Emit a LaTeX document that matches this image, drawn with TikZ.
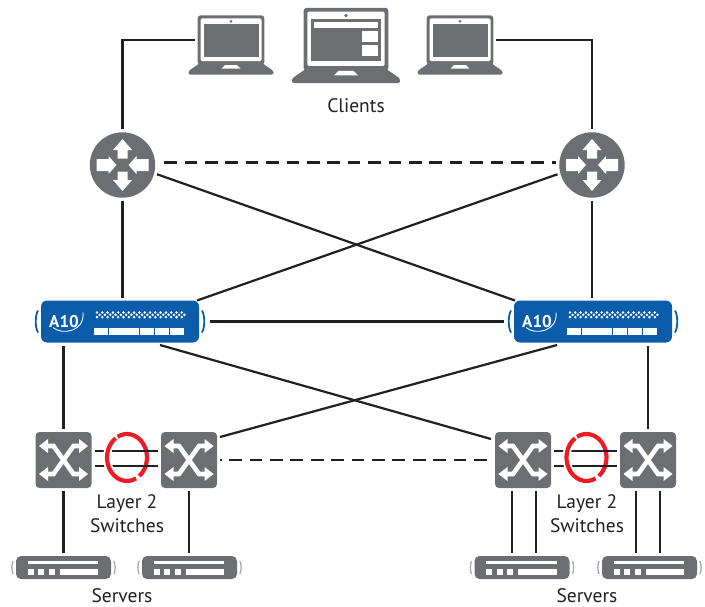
\documentclass[tikz,border=0pt]{standalone}
\usepackage{fontspec}
\setmainfont{PT Sans}
\usetikzlibrary{calc}
\definecolor{devgray}{HTML}{6D6E71}
\definecolor{bracketgray}{HTML}{A7A9AC}
\definecolor{a10blue}{HTML}{0B5CAB}
\definecolor{ringred}{HTML}{ED1C24}
\definecolor{inkdark}{HTML}{231F20}

\begin{document}
\begin{tikzpicture}[x=1pt,y=-1pt]
        \useasboundingbox (0,0) rectangle (705,606);
        \tikzstyle{every node}=[outer sep=3pt,inner sep=0pt]
        \tikzstyle{wire}=[draw=inkdark,line width=2.2pt]
        \tikzstyle{dashwire}=[wire,dash pattern=on 12.7pt off 7.7pt]
        \tikzstyle{caption}=[text=inkdark,outer sep=0pt,font=\fontsize{19.5}{24}\selectfont,align=center]
        \tikzstyle{laptop}=[rectangle,minimum width=#1*86pt,minimum height=#1*60pt,path picture={
          \begin{scope}[shift={(path picture bounding box.center)},x=#1pt,y=-#1pt]
            \fill[devgray,rounded corners=3pt] (-33.3,-29.7) rectangle (33.3,20);
            \fill[white,rounded corners=1.5pt] (-30.5,-26.7) rectangle (30.5,16);
            \fill[devgray] (-27.5,-21) rectangle (27.5,12);
            \fill[devgray] (0,-23.6) circle (1.5);
            \fill[devgray,rounded corners=1.5pt] (-31,18) -- (31,18) -- (42.5,26) -- (42.5,29.6) -- (-42.5,29.6) -- (-42.5,26) -- cycle;
            \fill[white] (-6,20) -- (6,20) -- (9.5,23.5) -- (-9.5,23.5) -- cycle;
          \end{scope}}]
        \tikzstyle{router}=[circle,minimum size=65.4pt,fill=devgray,path picture={
          \begin{scope}[shift={(path picture bounding box.center)}]
            \foreach \rot in {1,-1} {
              \begin{scope}[x=\rot pt,y=-\rot pt]
                \fill[white] (0,-26) -- (9.5,-15) -- (5,-15) -- (5,-6.5) -- (-5,-6.5) -- (-5,-15) -- (-9.5,-15) -- cycle;
                \fill[white] (-6,0) -- (-14,-9) -- (-14,-6) -- (-26,-6) -- (-26,6) -- (-14,6) -- (-14,9) -- cycle;
              \end{scope}
            }
          \end{scope}}]
        \tikzstyle{adc}=[rectangle,minimum width=173pt,minimum height=42pt,path picture={
          \begin{scope}[shift={(path picture bounding box.center)}]
            \fill[a10blue,rounded corners=6pt] (-79,-21) rectangle (79,21);
            \foreach \sx in {-1,1}
              \draw[a10blue,line width=1.8pt] (\sx*82,-11) .. controls (\sx*85,-6) and (\sx*85,6) .. (\sx*82,11);
            \foreach \dx in {0,...,16} {
              \fill[white] (-23+5.3*\dx,-10.4) -- ++(1.4,1.4) -- ++(-1.4,1.4) -- ++(-1.4,-1.4) -- cycle;
              \fill[white] (-23+5.3*\dx,-5.8) -- ++(1.4,1.4) -- ++(-1.4,1.4) -- ++(-1.4,-1.4) -- cycle;
              \fill[white] (-20.35+5.3*\dx,-8.1) -- ++(1.4,1.4) -- ++(-1.4,1.4) -- ++(-1.4,-1.4) -- cycle;
            }
            \foreach \dx in {0,...,5}
              \fill[white] (-26+15.2*\dx,6.5) rectangle ++(14.3,7);
            \draw[white,line width=0.9pt] (-67,6) .. controls (-58,14) and (-35,10) .. (-37,-9);
            \node[text=white,font=\fontsize{17}{17}\selectfont\bfseries] at (-56,0) {A10};
          \end{scope}}]
        \tikzstyle{switchbox}=[rectangle,minimum size=56pt,fill=devgray,rounded corners=4pt,path picture={
          \begin{scope}[shift={(path picture bounding box.center)},sharp corners]
            \foreach \sx/\sy in {1/1,1/-1,-1/1,-1/-1} {
              \begin{scope}[x=\sx pt,y=-\sy pt]
                \fill[white] (24.5,-14) -- (15.5,-21) -- (15.5,-7) -- cycle;
                \draw[white,line width=4.6pt] (16,-14) -- (10,-14) -- (0,0);
              \end{scope}
            }
          \end{scope}}]
        \tikzstyle{server}=[rectangle,minimum width=106pt,minimum height=23pt,path picture={
          \begin{scope}[shift={(path picture bounding box.center)}]
            \fill[devgray,rounded corners=5pt] (-47.5,-11.5) rectangle (47.5,11.5);
            \foreach \sx in {-1,1}
              \draw[bracketgray,line width=1.3pt] (\sx*50.5,-6.5) .. controls (\sx*52,-3) and (\sx*52,3) .. (\sx*50.5,6.5);
            \fill[white] (-36,-6.8) rectangle (34.5,-3.5);
            \foreach \dx in {-36,-25.5,-15}
              \fill[white] (\dx,1.5) rectangle ++(6,6);
            \fill[white] (-4,1.5) rectangle (34.5,7.5);
          \end{scope}}]
        % clients
        \node[laptop=1] (lapL) at (231,45) {};
        \node[laptop=1.27] (lapM) at (346,45.5) {};
        \node[laptop=1] (lapR) at (460,45) {};
        \begin{scope}[shift={(lapM.center)}]
          \fill[white] (-32,-23.5) rectangle (32,-17.5);
          \fill[white] (16,-14.5) rectangle (32,-3.5);
          \fill[white] (16,-0.5) rectangle (32,10.5);
        \end{scope}
        \node[caption] (lblClients) at (356,106) {Clients};
        % routers
        \node[router] (rtL) at (122.5,165) {};
        \node[router] (rtR) at (592,165) {};
        % load balancers
        \node[adc] (adcL) at (120,321.5) {};
        \node[adc] (adcR) at (593,321.5) {};
        % switches
        \node[switchbox] (swA) at (63.5,460) {};
        \node[switchbox] (swB) at (189,460) {};
        \node[switchbox] (swC) at (523,460) {};
        \node[switchbox] (swD) at (648,460) {};
        % servers
        \node[server] (srvA) at (63.5,567.5) {};
        \node[server] (srvB) at (189.5,567.5) {};
        \node[server] (srvC) at (522,567.5) {};
        \node[server] (srvD) at (649.5,567.5) {};
        \node[caption] (lblSwL) at (127,514) {Layer 2\\Switches};
        \node[caption] (lblSwR) at (587,514) {Layer 2\\Switches};
        \node[caption] (lblSrvL) at (122,595.5) {Servers};
        \node[caption] (lblSrvR) at (587,595.5) {Servers};
        % upper connectors
        \draw[wire] ([shift={(-36,-5)}]lapL.center) -| (rtL.north);
        \draw[wire] ([shift={(36,-5)}]lapR.center) -| (rtR.north);
        \draw[dashwire,dash phase=14.4pt] (rtL.4) -- (rtR.176);
        \draw[wire] (rtL.-15) -- ([shift={(-78,-21)}]adcR.center);
        \draw[wire] (rtR.195) -- ([shift={(77,-21)}]adcL.center);
        \draw[wire] (rtL.south) -- (rtL.south |- adcL.north);
        \draw[wire] (rtR.south) -- (rtR.south |- adcR.north);
        \draw[wire] (adcL.east) -- (adcR.west);
        % lower connectors
        \draw[wire] (adcL.south -| swA.north) -- (swA.north);
        \draw[wire] (adcR.south -| swD.north) -- (swD.north);
        \draw[wire] ([shift={(40,23.5)}]adcL.center) -- ([shift={(-32,-21)}]swC.center);
        \draw[wire] ([shift={(-36,23.5)}]adcR.center) -- ([shift={(31,-23)}]swB.center);
        \draw[dashwire,dash phase=11.2pt] (swB.east) -- (swC.west);
        % rings and switch pairs
        \foreach \ringx/\first/\second in {127/swA/swB,586.5/swC/swD} {
          \draw[ringred,line width=4.2pt] (\ringx,457.5) ++(52:20 and 23.5) arc (52:-118:20 and 23.5);
          \foreach \off in {-9,6}
            \draw[wire] ([shift={(0,\off)}]\first.east) -- ([shift={(0,\off)}]\second.west);
          \draw[white,line width=8pt] (\ringx,457.5) ++(100:20 and 23.5) arc (100:235:20 and 23.5);
          \draw[ringred,line width=4.2pt] (\ringx,457.5) ++(63:20 and 23.5) arc (63:235:20 and 23.5);
        }
        % switches to servers
        \draw[wire] (swA.south) -- (swA.south |- srvA.north);
        \draw[wire] (swB.south) -- (swB.south |- srvB.north);
        \foreach \off/\sw/\srv in {-11/swC/srvC,13/swC/srvC,-12/swD/srvD,12/swD/srvD}
          \draw[wire] ([xshift=\off pt]\sw.south) -- ([xshift=\off pt]\sw.south |- \srv.north);
      \end{tikzpicture}
\end{document}
